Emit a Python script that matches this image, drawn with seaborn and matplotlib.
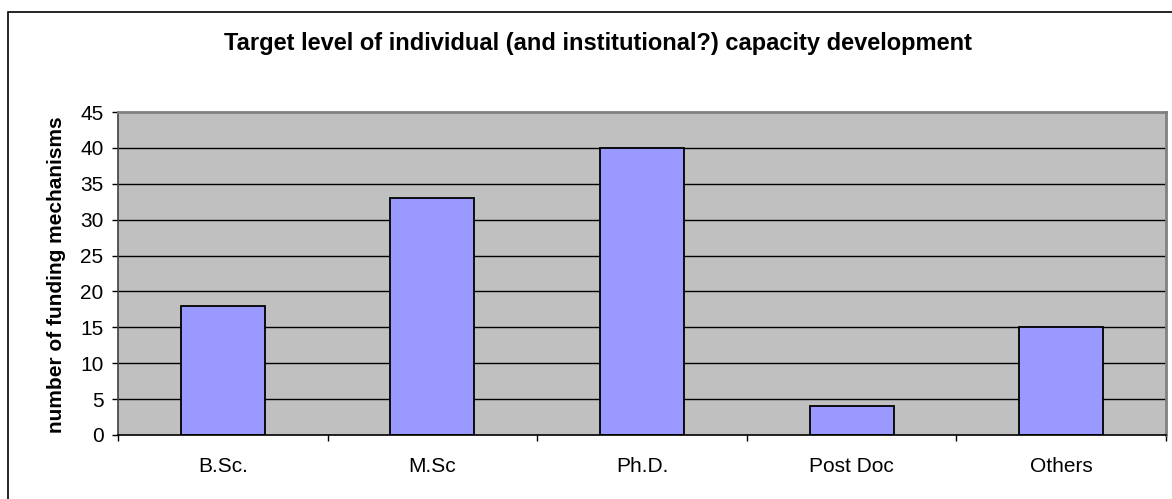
import matplotlib
matplotlib.use("Agg")
import matplotlib.pyplot as plt
from matplotlib.patches import Rectangle
from matplotlib.ticker import FixedLocator
import seaborn as sns
import pandas as pd

# Training levels targeted by funding mechanisms
levels = ["B.Sc.", "M.Sc", "Ph.D.", "Post Doc", "Others"]
counts = [18, 33, 40, 4, 15]
y_ticks = [0, 5, 10, 15, 20, 25, 30, 35, 40, 45]

title = "Target level of individual (and institutional?) capacity development"
y_label = "number of funding mechanisms"

sns.set_style("white")
plt.rcParams["font.family"] = ["Liberation Sans", "DejaVu Sans"]
plt.rcParams["text.color"] = "black"
plt.rcParams["xtick.color"] = "black"
plt.rcParams["ytick.color"] = "black"
plt.rcParams["axes.labelcolor"] = "black"

W, H = 1172, 499
fig = plt.figure(figsize=(W / 100, H / 100), dpi=100)
fig.patch.set_facecolor("white")

# plot area in pixel terms
left, right, top, bottom = 118, 1166, 112, 435
ax = fig.add_axes([left / W, 1 - bottom / H, (right - left) / W, (bottom - top) / H])
ax.set_facecolor("#C0C0C0")

df = pd.DataFrame({"level": levels, "count": counts})
sns.barplot(data=df, x="level", y="count", color="#9999FF", width=0.4,
            edgecolor="black", linewidth=1.3, saturation=1, ax=ax, zorder=3)

ax.set_xlim(-0.5, len(levels) - 0.5)
ax.set_ylim(0, 45)
ax.set_yticks(y_ticks)
ax.set_xlabel("")
ax.set_ylabel("")

# horizontal gridlines behind the bars
for v in y_ticks[1:-1]:
    ax.axhline(v, color="black", linewidth=1.0, zorder=1)

# spines
for side in ["top", "right"]:
    ax.spines[side].set_color("#808080")
    ax.spines[side].set_linewidth(2.0)
ax.spines["left"].set_color("#404040")
ax.spines["left"].set_linewidth(1.2)
ax.spines["bottom"].set_color("black")
ax.spines["bottom"].set_linewidth(1.2)
for s in ax.spines.values():
    s.set_zorder(4)

ax.tick_params(axis="y", direction="out", length=4.5, width=1, color="black",
               labelcolor="black", labelsize=15, pad=6, left=True)
ax.tick_params(axis="x", which="major", length=0, labelsize=15, pad=16,
               labelcolor="black")
ax.xaxis.set_minor_locator(FixedLocator([i - 0.5 for i in range(len(levels) + 1)]))
ax.tick_params(axis="x", which="minor", direction="out", length=4.5, width=1,
               color="black", bottom=True)

fig.text(597.5 / W, 1 - 50 / H, title, ha="center", va="baseline",
         fontsize=17, fontweight="bold", color="black")
fig.text(57 / W, 1 - 275 / H, y_label, rotation=90, ha="center", va="center",
         fontsize=15, fontweight="bold", color="black")

# chart frame around the whole figure
fig.patches.append(Rectangle((8 / W, -0.1), 1.2, 1.1 - 12 / H, transform=fig.transFigure,
                             fill=False, edgecolor="black", linewidth=1.2))

fig.savefig("out.png", dpi=100, facecolor="white")
